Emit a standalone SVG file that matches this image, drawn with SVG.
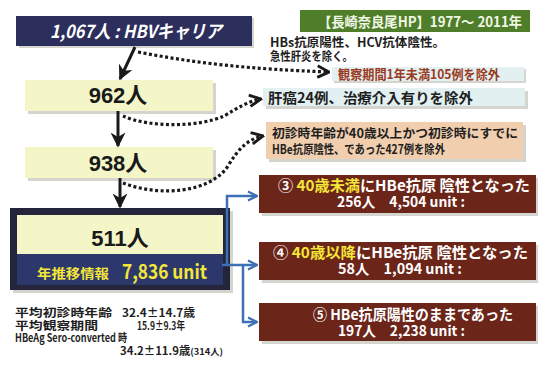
<svg xmlns="http://www.w3.org/2000/svg" width="540" height="365" viewBox="0 0 540 365">
<defs>
<marker id="blk" viewBox="0 0 10 10" refX="9" refY="5" markerWidth="5" markerHeight="5" orient="auto" markerUnits="strokeWidth">
<path d="M0,0 L10,5 L0,10 L3,5 Z" fill="#1a1a1a"/>
</marker>
<marker id="dot" viewBox="0 0 10 10" refX="9" refY="5" markerWidth="4.5" markerHeight="4.5" orient="auto" markerUnits="strokeWidth">
<path d="M1,1 L9,5 L1,9" fill="none" stroke="#1a1a1a" stroke-width="2"/>
</marker>
<marker id="blu" viewBox="0 0 10 10" refX="9" refY="5" markerWidth="4.5" markerHeight="4.5" orient="auto" markerUnits="strokeWidth">
<path d="M1,1 L9,5 L1,9" fill="none" stroke="#3d70b4" stroke-width="2"/>
</marker>
</defs>
<style>
text{font-family:"Noto Sans CJK JP","Liberation Sans",sans-serif;font-weight:bold}
.yb{fill:#f4f6c8}
.sh{fill:#b9b9b0;opacity:0.6}
.num{font-family:"Liberation Sans","Noto Sans CJK JP",sans-serif;font-size:22px;fill:#1a1a1a;text-anchor:middle}
.br{fill:#6b2519}
.w{fill:#ffffff;font-size:15px}
.w2{fill:#ffffff;font-size:14px}
.y{fill:#f5e63a}
.dk{fill:#1e1e1e;font-size:12.5px}
.st{fill:#1e1e1e;font-size:11px}
.dots{fill:none;stroke:#1a1a1a;stroke-width:3.2;stroke-dasharray:3 2.5;marker-end:url(#dot)}
.solid{fill:none;stroke:#1a1a1a;stroke-width:3;marker-end:url(#blk)}
.blue{fill:none;stroke:#3d70b4;stroke-width:2.5}
</style>
<rect width="540" height="365" fill="#ffffff"/>

<g id="title">
<rect x="19" y="18" width="235" height="30" class="sh"/>
<rect x="16" y="16" width="236" height="30" fill="#2c2e5c"/>
<text x="50" y="38" font-size="18" font-style="italic" fill="#ffffff" textLength="172" lengthAdjust="spacingAndGlyphs">1,067人 : HBVキャリア</text>
</g>

<g id="header">
<rect x="300" y="10" width="230" height="22" fill="#4e7e2a"/>
<text x="318" y="27" font-size="14" fill="#f0f6e4" font-weight="normal" textLength="204" lengthAdjust="spacingAndGlyphs">【長崎奈良尾HP】1977～ 2011年</text>
</g>

<g id="note">
<text x="270" y="47" class="dk" font-size="12" textLength="175" lengthAdjust="spacingAndGlyphs">HBs抗原陽性、HCV抗体陰性。</text>
<text x="270" y="61" class="dk" font-size="11" textLength="83" lengthAdjust="spacingAndGlyphs">急性肝炎を除く。</text>
</g>

<g id="excl1">
<rect x="334" y="69" width="192" height="14" class="sh"/>
<rect x="332" y="67" width="192" height="14" fill="#e2f0f1"/>
<text x="338" y="79" font-size="13" fill="#9b3a22" textLength="162" lengthAdjust="spacingAndGlyphs">観察期間1年未満105例を除外</text>
</g>

<g id="n962">
<rect x="28" y="83" width="188" height="31" class="sh"/>
<rect x="25" y="80" width="188" height="31" class="yb"/>
<text x="118" y="103" class="num">962人</text>
</g>

<g id="excl2">
<rect x="266" y="91" width="262" height="18" class="sh"/>
<rect x="263" y="88" width="262" height="18" fill="#e2f0f1"/>
<text x="268" y="103" font-size="14" fill="#1e1e1e" textLength="205" lengthAdjust="spacingAndGlyphs">肝癌24例、治療介入有りを除外</text>
</g>

<g id="excl3">
<rect x="269" y="125" width="257" height="37" class="sh"/>
<rect x="266" y="122" width="257" height="37" fill="#f1cfae"/>
<text x="272" y="138" class="dk" textLength="246" lengthAdjust="spacingAndGlyphs">初診時年齢が40歳以上かつ初診時にすでに</text>
<text x="272" y="154" class="dk" textLength="173" lengthAdjust="spacingAndGlyphs">HBe抗原陰性、であった427例を除外</text>
</g>

<g id="n938">
<rect x="28" y="150" width="188" height="31" class="sh"/>
<rect x="25" y="147" width="188" height="31" class="yb"/>
<text x="118" y="171" class="num">938人</text>
</g>

<g id="n511">
<rect x="13" y="211" width="220" height="82" class="sh"/>
<rect x="10" y="208" width="220" height="82" fill="#24243a"/>
<rect x="17" y="215" width="206" height="39" class="yb"/>
<rect x="17" y="254" width="206" height="31" fill="#2c386c"/>
<text x="120" y="246" class="num" font-size="26">511人</text>
<text x="37" y="278" font-size="13" class="y" textLength="72" lengthAdjust="spacingAndGlyphs">年推移情報</text>
<text x="122" y="279" font-size="20" class="y" font-family="Liberation Sans, sans-serif" textLength="85" lengthAdjust="spacingAndGlyphs">7,836 unit</text>
</g>

<g id="g3">
<rect x="262" y="178" width="276" height="38" class="sh"/>
<rect x="259" y="175" width="277" height="38" class="br"/>
<text x="278" y="191" class="w" textLength="252" lengthAdjust="spacingAndGlyphs">③ <tspan class="y">40歳未満</tspan>にHBe抗原 陰性となった</text>
<text x="337" y="207" class="w2" textLength="128" lengthAdjust="spacingAndGlyphs">256人　4,504 unit :</text>
</g>

<g id="g4">
<rect x="262" y="245" width="276" height="38" class="sh"/>
<rect x="259" y="242" width="277" height="38" class="br"/>
<text x="273" y="258" class="w" textLength="255" lengthAdjust="spacingAndGlyphs">④ <tspan class="y">40歳以降</tspan>にHBe抗原 陰性となった</text>
<text x="338" y="274" class="w2" textLength="124" lengthAdjust="spacingAndGlyphs">58人　1,094 unit :</text>
</g>

<g id="g5">
<rect x="262" y="306" width="276" height="38" class="sh"/>
<rect x="259" y="303" width="277" height="38" class="br"/>
<text x="313" y="320" class="w" textLength="200" lengthAdjust="spacingAndGlyphs">⑤ HBe抗原陽性のままであった</text>
<text x="338" y="336" class="w2" textLength="127" lengthAdjust="spacingAndGlyphs">197人　2,238 unit :</text>
</g>

<g id="stats">
<text x="15" y="317" class="st" font-size="12" textLength="97" lengthAdjust="spacingAndGlyphs">平均初診時年齢</text>
<text x="122" y="317" class="st" textLength="73" lengthAdjust="spacingAndGlyphs">32.4±14.7歳</text>
<text x="15" y="330" class="st" font-size="12" textLength="83" lengthAdjust="spacingAndGlyphs">平均観察期間</text>
<text x="137" y="330" class="st" textLength="48" lengthAdjust="spacingAndGlyphs">15.9±9.3年</text>
<text x="15" y="342" class="st" font-weight="normal" textLength="112" lengthAdjust="spacingAndGlyphs">HBeAg Sero-converted 時</text>
<text x="120" y="355" class="st" textLength="103" lengthAdjust="spacingAndGlyphs">34.2±11.9歳<tspan font-size="9">(314人)</tspan></text>
</g>

<g id="connectors">
<line x1="135" y1="47" x2="120" y2="79" class="solid"/>
<line x1="118" y1="111" x2="118" y2="146" class="solid"/>
<line x1="120" y1="178" x2="120" y2="207" class="solid"/>
<path d="M138,52 C200,64 250,69 329,72" class="dots"/>
<path d="M123,116 C150,128 200,127 224,116 C238,108 248,101 261,99" class="dots"/>
<path d="M123,183 C160,197 210,193 228,166 C238,149 248,139 263,136" class="dots"/>
<path d="M227,265 L227,196 L257,196" class="blue" marker-end="url(#blu)"/>
<path d="M222,265 L257,265" class="blue" marker-end="url(#blu)"/>
<path d="M243,265 L243,322 L257,322" class="blue" marker-end="url(#blu)"/>
</g>
</svg>
